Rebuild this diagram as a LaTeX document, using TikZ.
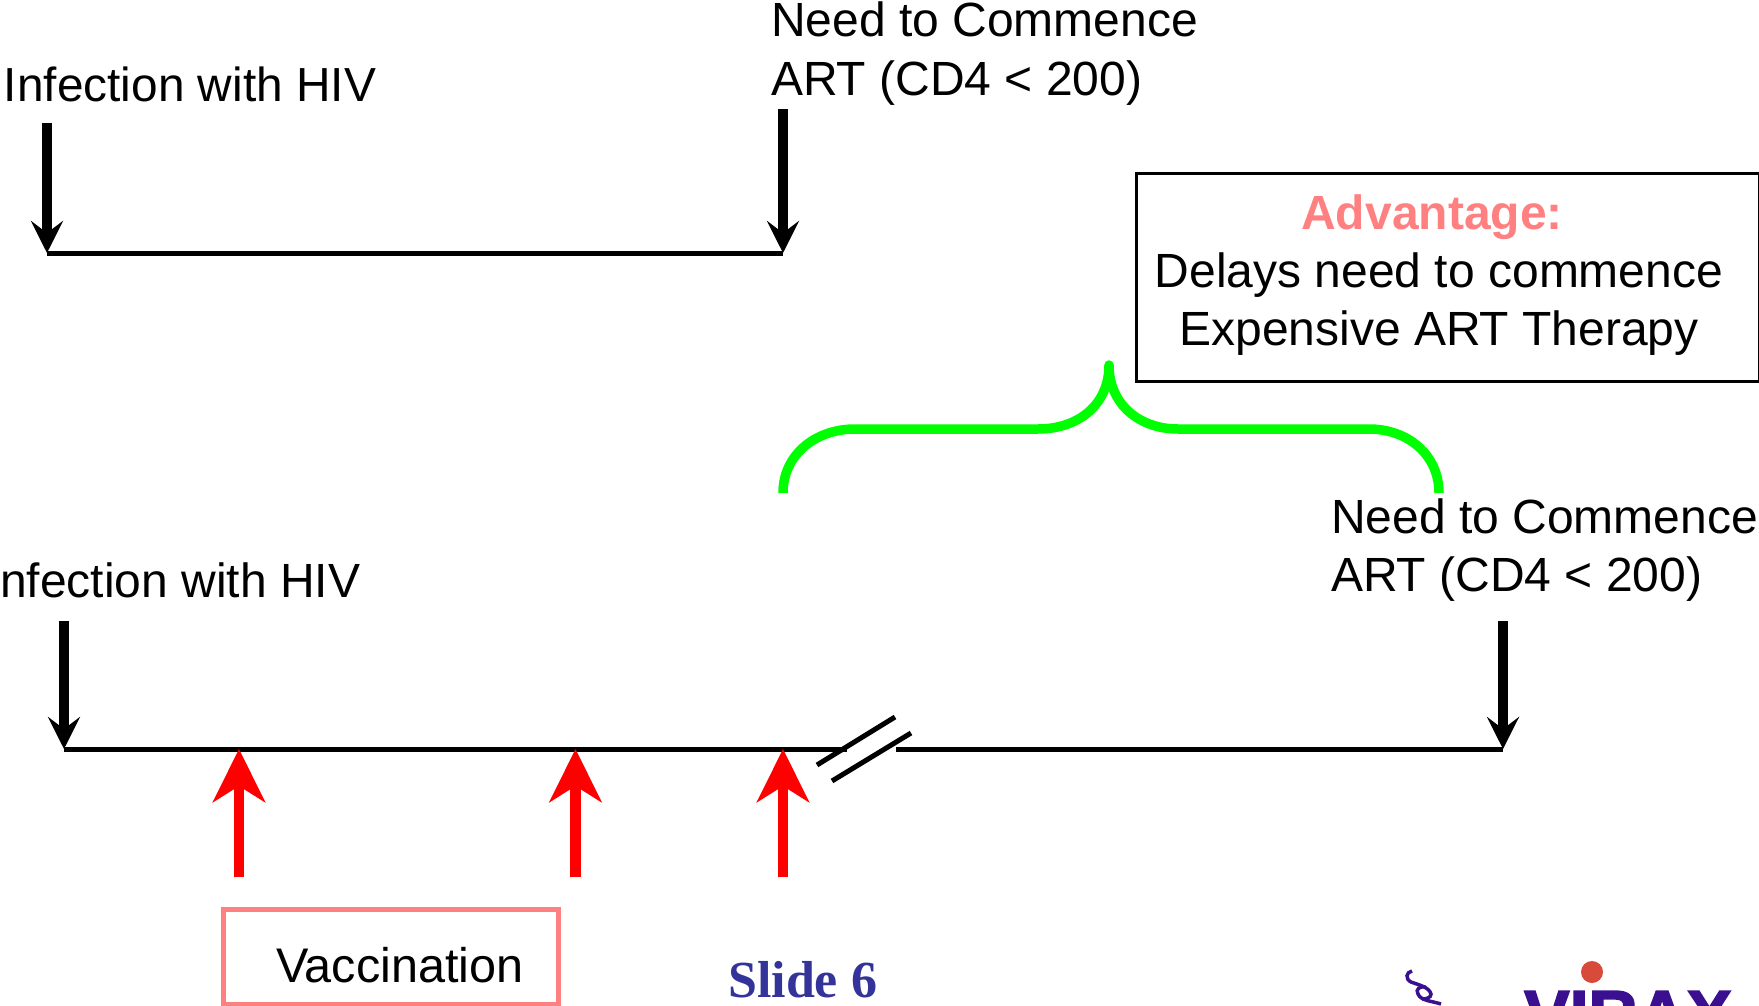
\documentclass[tikz,border=0pt]{standalone}
\usepackage{fontspec}
\setmainfont{Liberation Sans}
\newfontfamily\slidefont{Liberation Serif}
\newfontfamily\logofont{Liberation Sans}[BoldFeatures={FakeBold=2.5}]
\usetikzlibrary{arrows.meta,positioning}
\definecolor{advColor}{HTML}{FF8080}
\definecolor{slideColor}{HTML}{333399}
\definecolor{logoColor}{HTML}{3A1090}
\definecolor{dotColor}{HTML}{D84A3A}
\tikzset{
	lab/.style={anchor=base west,inner sep=0,outer sep=0,font=\fontsize{48}{48}\selectfont},
	labc/.style={anchor=base,inner sep=0,outer sep=0,font=\fontsize{48}{48}\selectfont},
	down/.style={line width=10pt,-{Stealth[length=32pt,width=32pt,inset=12pt]}},
	up/.style={red,line width=10.5pt,-{Stealth[length=53pt,width=52pt,inset=16pt]}},
	axis/.style={line width=5pt},
	slash/.style={line width=5pt},
	helix/.style={logoColor,line width=3.5pt}
}
\begin{document}
\begin{tikzpicture}[x=1pt,y=-1pt]
	\useasboundingbox (0,0) rectangle (1759,1006);
	% top timeline
	\node[lab, font=\fontsize{47.8}{48}\selectfont] (inf1) at (4,102) {Infection with HIV};
	\node[lab] (need1) at (771,37) {Need to Commence};
	\node[lab] (art1) at (771,96) {ART (CD4 < 200)};
	\coordinate (a1) at (47,123);
	\coordinate (a2) at (783,109);
	\coordinate (t1) at (47,253);
	\coordinate (t2) at (783,253);
	\draw[axis] (t1) -- (t2);
	\draw[down] (a1) -- (t1);
	\draw[down] (a2) -- (t2);
	% advantage box
	\node[draw, line width=2.5pt, anchor=north west, minimum width=623pt, minimum height=208pt] (box) at (1135,172) {};
	\node[labc, text=advColor, font=\fontsize{48}{48}\selectfont\bfseries] (adv) at (1432,229) {Advantage:};
	\node[labc] (del) at (1439,287) {Delays need to commence};
	\node[labc] (exp) at (1439,345) {Expensive ART Therapy};
	% brace
	\draw[line width=9.5pt, green, line join=round] (783,493) .. controls (783,455) and (815,429) .. (855,429) -- (1038,429)
		.. controls (1078,429) and (1109,405) .. (1109,365)
		.. controls (1109,405) and (1140,429) .. (1178,429) -- (1369,429)
		.. controls (1408,429) and (1439,455) .. (1439,493);
	% bottom timeline
	\node[lab] (inf2) at (0,597) {nfection with HIV};
	\node[lab] (need2) at (1331,533) {Need to Commence};
	\node[lab] (art2) at (1331,591) {ART (CD4 < 200)};
	\coordinate (b1) at (64,621);
	\coordinate (b2) at (1503,621);
	\coordinate (l1) at (64,749);
	\coordinate (l2) at (847,749);
	\coordinate (l3) at (896,749);
	\coordinate (l4) at (1503,749);
	\draw[axis] (l1) -- (l2);
	\draw[axis] (l3) -- (l4);
	\draw[down] (b1) -- (l1);
	\draw[down] (b2) -- (l4);
	\draw[slash] (817,765) -- (895,717);
	\draw[slash] (832,781) -- (911,733);
	\foreach \n/\x in {r1/239,r2/575.5,r3/783} {
		\coordinate (\n s) at (\x,877);
		\coordinate (\n t) at (\x,749);
		\draw[up] (\n s) -- (\n t);
	}
	% vaccination
	\node[draw=advColor, line width=5pt, outer sep=0, anchor=north west, minimum width=335pt, minimum height=94.5pt] (vac) at (223.5,909.5) {};
	\node[lab, font=\fontsize{48.6}{48}\selectfont] (vact) at (276,982) {Vaccination};
	\node[anchor=base west, inner sep=0, text=slideColor, font=\fontsize{52}{52}\slidefont\bfseries] (slide) at (728,997) {Slide 6};
	% logo
	\fill[dotColor] (1592,972) circle (11);
	\draw[helix] (1412,971) .. controls (1406,972) and (1405,979) .. (1411,982) .. controls (1419,985) and (1429,987) .. (1431,994) .. controls (1431,998) and (1426,999) .. (1422,999);
	\draw[helix] (1426,987) .. controls (1420,986) and (1415,989) .. (1418,994) .. controls (1421,1001) and (1432,1001) .. (1441,1004);
	\begin{scope}
		\clip (1500,985) rectangle (1759,1006);
		\node[anchor=base west, inner sep=0, text=logoColor, font=\fontsize{68}{68}\logofont\bfseries] (logo) at (1524,1038) {VIRAX};
	\end{scope}
\end{tikzpicture}
\end{document}
